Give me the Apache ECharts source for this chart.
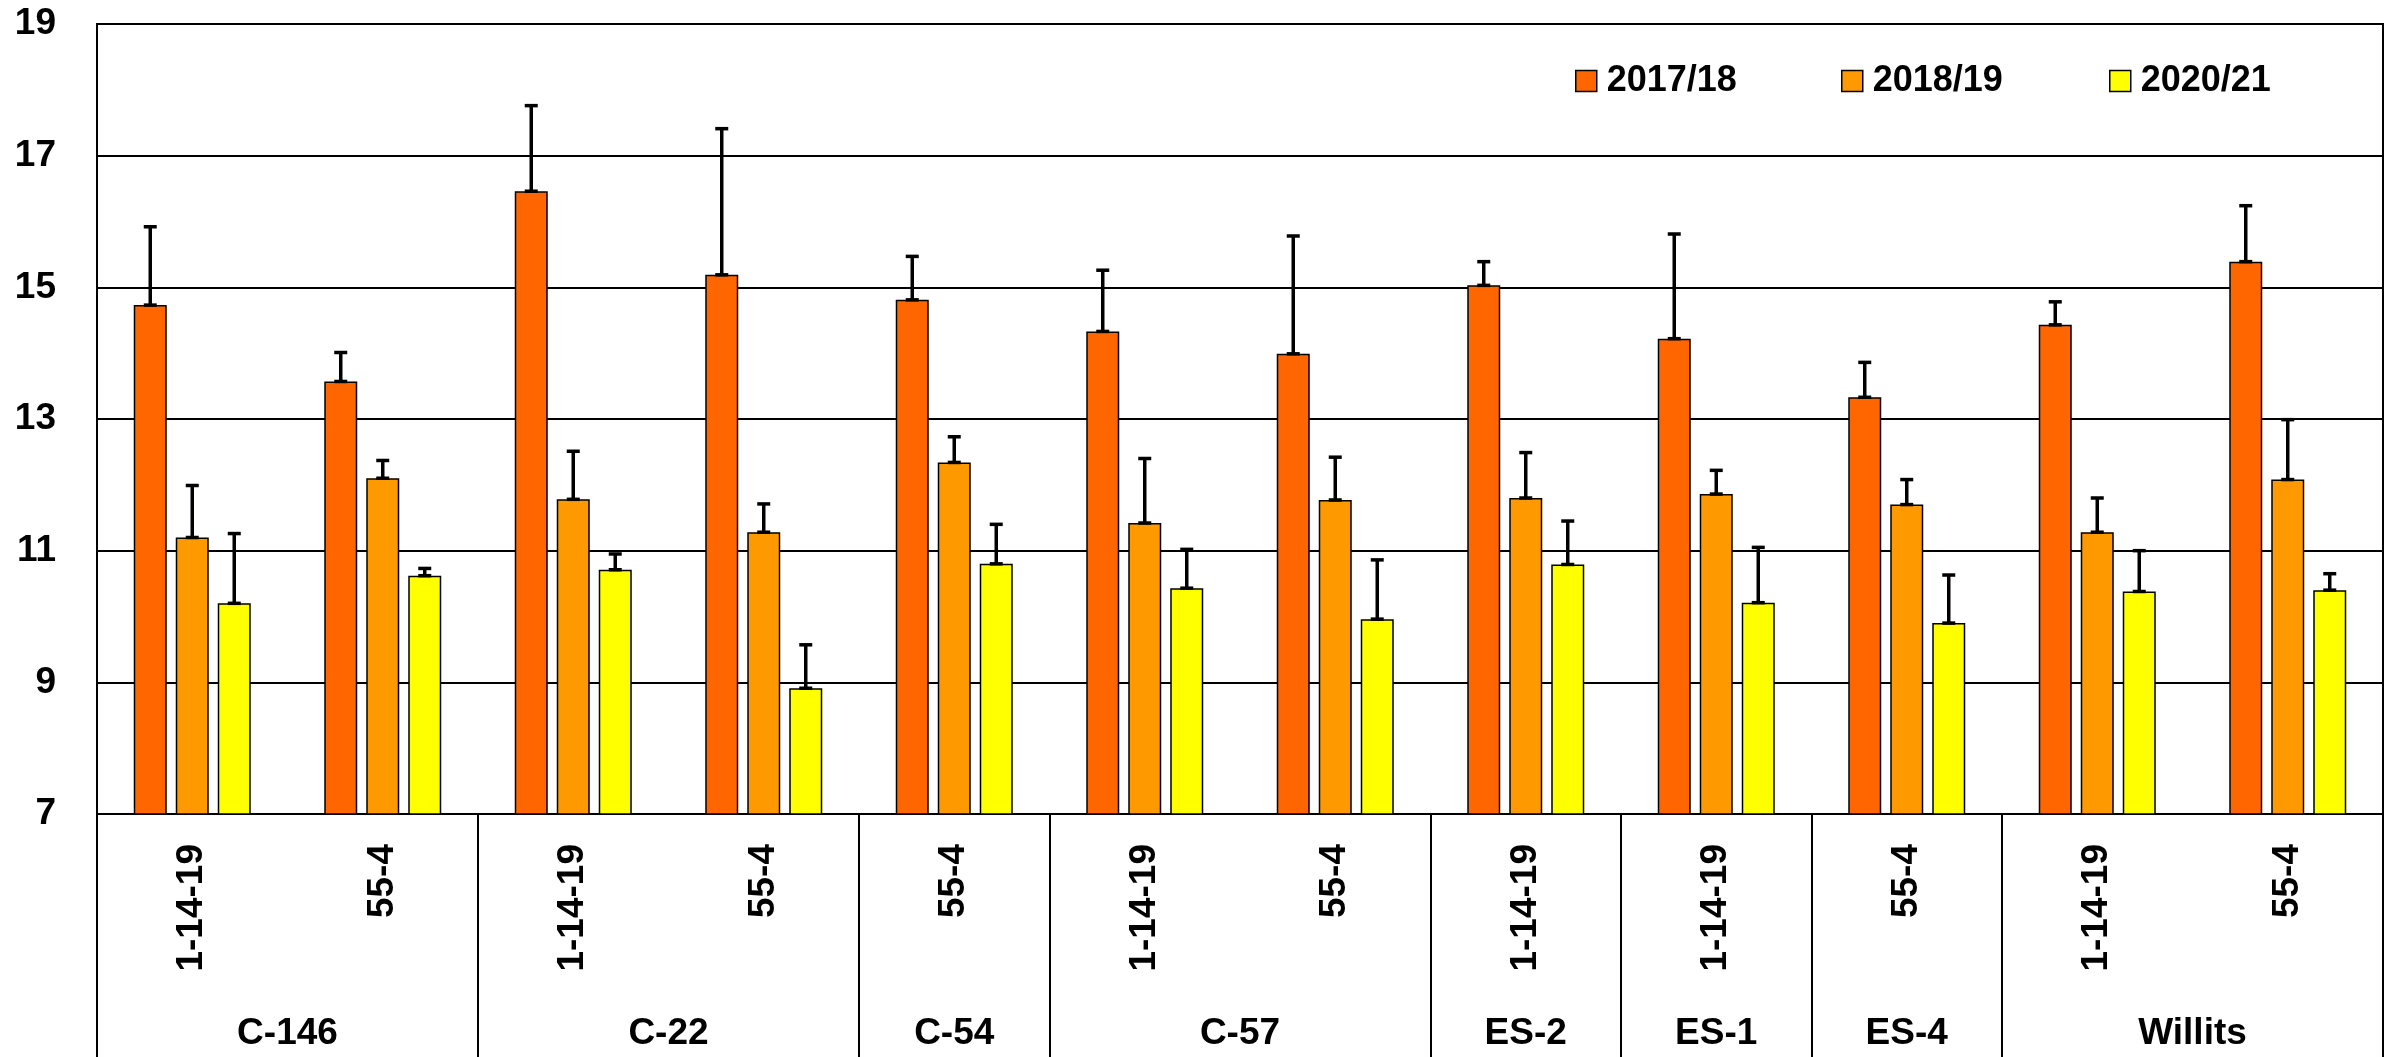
<!DOCTYPE html>
<html>
<head>
<meta charset="utf-8">
<script src="https://cdn.jsdelivr.net/npm/echarts@6/dist/echarts.min.js"></script>
<style>
  html, body { margin: 0; padding: 0; background: #fff; }
  #main { width: 2397px; height: 1057px; }
</style>
</head>
<body>
<div id="main"></div>
<script>
// sub categories (rotated labels) and their groups
var subLabels = ['1-14-19', '55-4', '1-14-19', '55-4', '55-4', '1-14-19', '55-4',
                 '1-14-19', '1-14-19', '55-4', '1-14-19', '55-4'];
var groupNames = ['C-146', 'C-22', 'C-54', 'C-57', 'ES-2', 'ES-1', 'ES-4', 'Willits'];
var groupSizes = [2, 2, 1, 2, 1, 1, 1, 2];

var seriesNames = ['2017/18', '2018/19', '2020/21'];
var colors = ['#FF6600', '#FF9900', '#FFFF00'];

// means
var v2017 = [14.73, 13.57, 16.46, 15.19, 14.81, 14.33, 13.99, 15.03, 14.22, 13.33, 14.43, 15.39];
var v2018 = [11.20, 12.10, 11.78, 11.28, 12.34, 11.42, 11.77, 11.80, 11.86, 11.70, 11.28, 12.08];
var v2020 = [10.20, 10.62, 10.71, 8.91, 10.80, 10.43, 9.96, 10.79, 10.21, 9.90, 10.38, 10.40];

// upper error (sd)
var e2017 = [1.19, 0.44, 1.30, 2.22, 0.66, 0.93, 1.79, 0.36, 1.59, 0.53, 0.35, 0.85];
var e2018 = [0.79, 0.27, 0.73, 0.43, 0.39, 0.98, 0.65, 0.69, 0.36, 0.38, 0.52, 0.91];
var e2020 = [1.06, 0.11, 0.24, 0.66, 0.60, 0.59, 0.90, 0.66, 0.84, 0.73, 0.62, 0.25];

var yTicks = [7, 9, 11, 13, 15, 17, 19];

// layout
var BAR_W = 33, BAR_GAP = 9, CAP_W = 13;
var FONT = 'Liberation Sans';

var values = [v2017, v2018, v2020];
var errors = [e2017, e2018, e2020];

// group boundaries / centers on a 0..12 value axis
var bounds = [0], centers = [];
groupSizes.forEach(function (n) {
    var last = bounds[bounds.length - 1];
    centers.push(last + n / 2);
    bounds.push(last + n);
});

function errorBar(k) {
    return function (params, api) {
        var idx = api.value(0);
        var base = api.coord([idx, api.value(1)]);
        var top = api.coord([idx, api.value(2)]);
        var x = base[0] + (k - 1) * (BAR_W + BAR_GAP);
        var h = CAP_W / 2;
        var st = { stroke: '#000', lineWidth: 3.5 };
        return {
            type: 'group',
            children: [
                { type: 'line', shape: { x1: x, y1: base[1], x2: x, y2: top[1] }, style: st },
                { type: 'line', shape: { x1: x - h, y1: top[1], x2: x + h, y2: top[1] }, style: st },
                { type: 'line', shape: { x1: x - h, y1: base[1], x2: x + h, y2: base[1] }, style: st }
            ]
        };
    };
}

var series = [];
seriesNames.forEach(function (name, k) {
    series.push({
        name: name,
        type: 'bar',
        xAxisIndex: 0,
        barWidth: BAR_W,
        barGap: (BAR_GAP / BAR_W * 100) + '%',
        itemStyle: { color: colors[k], borderColor: '#000', borderWidth: 1.5 },
        data: values[k]
    });
});
seriesNames.forEach(function (name, k) {
    series.push({
        name: name + ' err',
        type: 'custom',
        xAxisIndex: 0,
        z: 5,
        renderItem: errorBar(k),
        encode: { x: 0, y: [1, 2] },
        data: values[k].map(function (v, i) { return [i, v, v + errors[k][i]]; })
    });
});

var legendLeft = [1575, 1841, 2109];
var legends = seriesNames.map(function (name, k) {
    return {
        data: [name],
        left: legendLeft[k],
        top: 61,
        padding: 0,
        icon: 'rect',
        itemWidth: 21,
        itemHeight: 21,
        itemStyle: { borderColor: '#000', borderWidth: 1.5 },
        textStyle: {
            fontFamily: FONT, fontWeight: 'bold', fontSize: 36, lineHeight: 40,
            color: '#000', padding: [0, 0, 0, 5]
        }
    };
});

var chart = echarts.init(document.getElementById('main'));
chart.setOption({
    animation: false,
    backgroundColor: '#fff',
    legend: legends,
    grid: {
        left: 97, right: 14, top: 24, bottom: 243,
        show: true, borderColor: '#000', borderWidth: 2
    },
    xAxis: [
        {
            type: 'category',
            position: 'bottom',
            data: subLabels,
            axisLine: { lineStyle: { color: '#000', width: 2 } },
            axisTick: { show: false },
            axisLabel: {
                rotate: 90,
                margin: 30,
                fontFamily: FONT,
                fontWeight: 'bold',
                fontSize: 37,
                color: '#000'
            }
        },
        {
            type: 'value',
            position: 'bottom',
            min: 0,
            max: 12,
            splitLine: { show: false },
            axisLine: { show: false },
            axisTick: {
                show: true,
                customValues: bounds,
                length: 260,
                lineStyle: { color: '#000', width: 2 }
            },
            axisLabel: {
                customValues: centers,
                margin: 201,
                fontFamily: FONT,
                fontWeight: 'bold',
                fontSize: 37,
                lineHeight: 37,
                color: '#000',
                formatter: function (val) {
                    var i = centers.indexOf(val);
                    return i >= 0 ? groupNames[i] : '';
                }
            }
        }
    ],
    yAxis: {
        type: 'value',
        min: yTicks[0],
        max: yTicks[yTicks.length - 1],
        interval: 2,
        axisLine: { show: true, lineStyle: { color: '#000', width: 2 } },
        axisTick: { show: false },
        splitLine: { lineStyle: { color: '#000', width: 2 } },
        axisLabel: {
            margin: 41,
            fontFamily: FONT,
            fontWeight: 'bold',
            fontSize: 37,
            color: '#000'
        }
    },
    series: series
});
</script>
</body>
</html>
